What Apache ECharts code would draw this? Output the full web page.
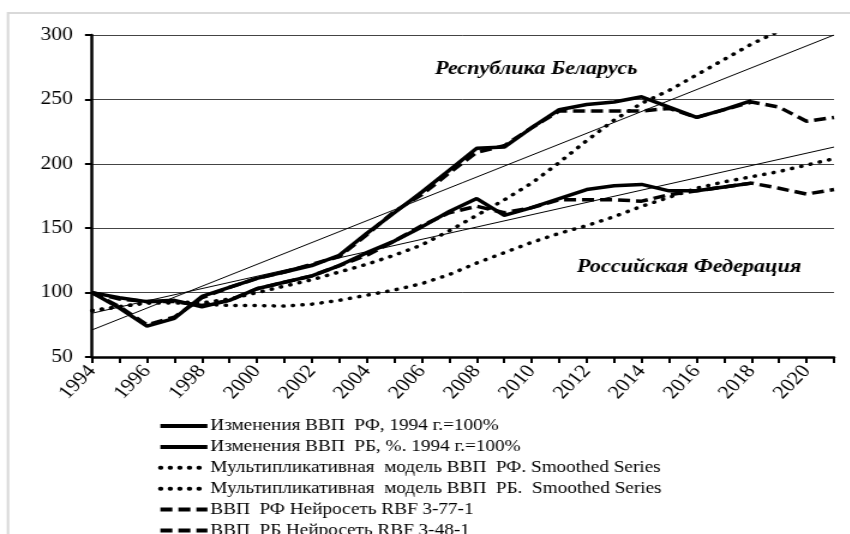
<!DOCTYPE html>
<html>
<head>
<meta charset="utf-8">
<script src="https://cdn.jsdelivr.net/npm/echarts@6/dist/echarts.min.js"></script>
<style>
  html, body { margin: 0; padding: 0; background: #fff; overflow: hidden; }
  /* The chart is laid out narrower and widened on screen, giving the wide Times lettering */
  #chart { width: 708.33px; height: 534px; transform: scaleX(1.2); transform-origin: 0 0; }
</style>
</head>
<body>
<div id="chart"></div>
<script>
// Years on the category axis
const years = ['1994','1995','1996','1997','1998','1999','2000','2001','2002','2003','2004','2005','2006','2007',
               '2008','2009','2010','2011','2012','2013','2014','2015','2016','2017','2018','2019','2020','2021'];

// Actual GDP change, 1994 = 100 (data through 2018)
const gdpRF = [100, 96, 93, 94, 89, 94, 103, 108, 113, 121, 131, 140, 151, 163,
               173, 160, 166, 173, 180, 183, 184, 179, 179, 182, 185, null, null, null];
const gdpRB = [100, 88, 74, 80, 97, 104, 111, 116, 121, 129, 146, 162, 178, 195,
               212, 213, 228, 242, 246, 248, 252, 244, 236, 242, 249, null, null, null];

// Multiplicative model, smoothed series
const multRF = [86, 89, 92, 92, 91, 90, 90, 89.5, 91, 94, 98, 102, 107, 114,
                123, 131, 139, 146, 152, 159, 167, 174, 181, 186, 190, 194, 199, 204];
const multRB = [86, 89, 92, 93, 92, 95, 100, 105, 110, 116, 122, 129, 137, 148,
                160, 172, 185, 201, 218, 234, 247, 257, 269, 281, 293, 303, 312, 320];

// RBF neural network output
const nnRF = [100, 95, 93, 93, 90, 94, 103, 108, 113, 121, 129, 140, 152, 162,
              167, 162, 166, 172, 172, 172, 171, 176, 179, 182, 185, 181, 176.5, 180];
const nnRB = [100, 89, 75, 81, 96, 104, 111, 116, 122, 128, 145, 163, 176, 193,
              209, 214, 228, 241, 241, 241, 241, 243, 236, 242, 248, 244, 233, 236];

// Linear trend end values (first and last year)
const trendYears = ['1994', '2021'];
const trendRF = [84, 213];
const trendRB = [71, 300];

// Y-axis ticks
const yTicks = { min: 50, max: 300, step: 50 };

const names = [
  'Изменения ВВП  РФ, 1994 г.=100%',
  'Изменения ВВП  РБ, %. 1994 г.=100%',
  'Мультипликативная  модель ВВП  РФ. Smoothed Series',
  'Мультипликативная  модель ВВП  РБ.  Smoothed Series',
  'ВВП  РФ Нейросеть RBF 3-77-1',
  'ВВП  РБ Нейросеть RBF 3-48-1'
];

// horizontal stretch applied by CSS; x positions below are given in screen pixels
const SX = 1.2;
const px = v => v / SX;

const serif = '"Liberation Serif", "Times New Roman", serif';
const solid = { color: '#000', width: 3.5, type: 'solid' };
const dotted = { color: '#000', width: 3.5, type: [0.5, 7.5], cap: 'round' };
const dashed = { color: '#000', width: 3.5, type: [10, 5] };

function lineSeries(name, data, style) {
  return {
    name: name, type: 'line', data: data, symbol: 'none', clip: true,
    lineStyle: style, itemStyle: { color: '#000' }, z: 3
  };
}
function trendSeries(xs, ys) {
  return {
    type: 'line', symbol: 'none', silent: true, z: 2,
    data: xs.map((x, i) => [x, ys[i]]),
    lineStyle: { color: '#000', width: 1 }
  };
}

const chart = echarts.init(document.getElementById('chart'), null,
  { renderer: 'canvas', width: 850 / SX, height: 534 });
chart.setOption({
  animation: false,
  backgroundColor: '#fff',
  grid: { left: px(92), right: px(16), top: 35, bottom: 177 },
  xAxis: {
    type: 'category', data: years, boundaryGap: false,
    axisLine: { lineStyle: { color: '#000', width: 2.5 } },
    axisTick: { show: true, interval: 0, length: 6, lineStyle: { color: '#000', width: 2 } },
    axisLabel: { interval: 1, rotate: 50, color: '#000', fontFamily: serif, fontSize: 18.5, margin: 11 },
    splitLine: { show: false }
  },
  yAxis: {
    type: 'value', min: yTicks.min, max: yTicks.max, interval: yTicks.step,
    axisLine: { show: true, lineStyle: { color: '#000', width: 2.5 } },
    axisTick: { show: true, length: px(7), lineStyle: { color: '#000', width: 2 } },
    axisLabel: { color: '#000', fontFamily: serif, fontSize: 18, margin: px(19) },
    splitLine: { show: true, lineStyle: { color: '#444', width: 1 } }
  },
  legend: {
    data: names, orient: 'vertical', left: px(158), top: 418, height: 160, padding: 0,
    itemWidth: px(47), itemHeight: 14, itemGap: 4.9,
    itemStyle: { opacity: 0 },
    lineStyle: { width: 4 },
    textStyle: { color: '#000', fontFamily: serif, fontSize: 16, lineHeight: 16, padding: [0, 0, 0, -2.5] },
    selectedMode: false
  },
  graphic: [
    { type: 'rect', silent: true, shape: { x: px(8), y: 13, width: 900, height: 600 },
      style: { fill: 'none', stroke: '#d9d9d9', lineWidth: 2 }, z: -1 },
    { type: 'text', left: px(435), top: 60, silent: true,
      style: { text: 'Республика Беларусь', fill: '#000', font: 'italic bold 18.5px ' + serif } },
    { type: 'text', left: px(577), top: 258, silent: true,
      style: { text: 'Российская Федерация', fill: '#000', font: 'italic bold 18.5px ' + serif } }
  ],
  series: [
    trendSeries(trendYears, trendRF),
    trendSeries(trendYears, trendRB),
    lineSeries(names[0], gdpRF, solid),
    lineSeries(names[1], gdpRB, solid),
    lineSeries(names[2], multRF, dotted),
    lineSeries(names[3], multRB, dotted),
    lineSeries(names[4], nnRF, dashed),
    lineSeries(names[5], nnRB, dashed)
  ]
});
</script>
</body>
</html>
